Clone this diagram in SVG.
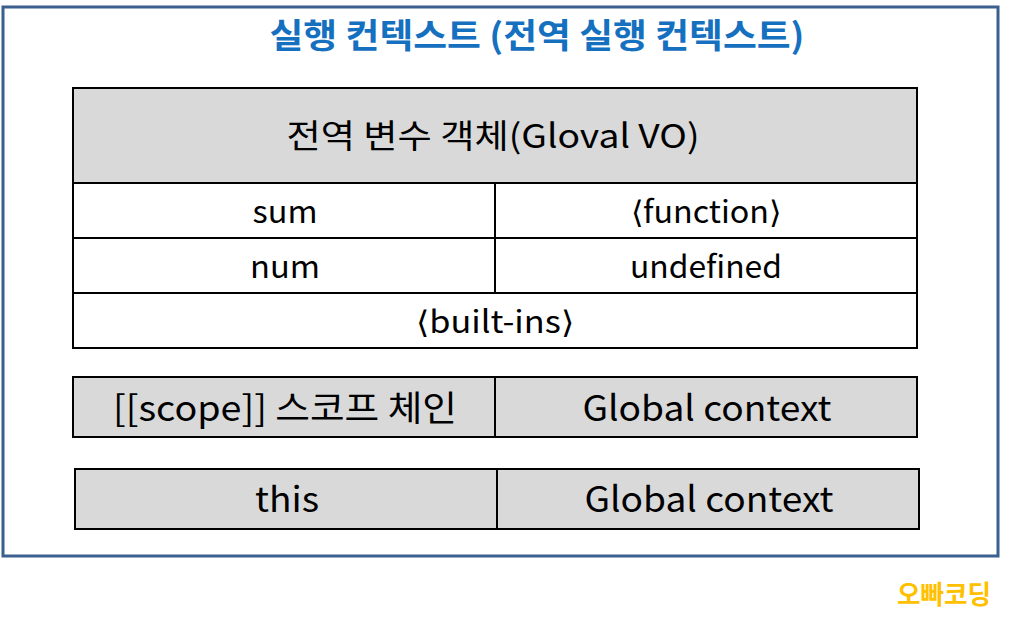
<svg xmlns="http://www.w3.org/2000/svg" width="1024" height="621" viewBox="0 0 1024 621">
<style>
.t{font-family:"Noto Sans CJK KR","Noto Sans",sans-serif;fill:#000;text-anchor:middle}
.r{font-size:31px}
.cell{stroke:#000;stroke-width:2}
.g{fill:#d9d9d9}
.w{fill:#fff}
</style>
<rect width="1024" height="621" fill="#fff"/>
<g id="frame">
<rect x="3" y="7" width="995" height="549" fill="#fff" stroke="#3b5f8e" stroke-width="3"/>
<text x="537" y="48" class="t" style="fill:#1670c0;font-weight:bold;font-size:34px" textLength="535" lengthAdjust="spacingAndGlyphs">실행 컨텍스트 (전역 실행 컨텍스트)</text>
</g>
<g id="vo">
<rect x="73" y="88" width="844" height="95" class="cell g"/>
<rect x="73" y="183" width="844" height="165" class="cell w"/>
<line x1="73" y1="238" x2="917" y2="238" class="cell"/>
<line x1="73" y1="293" x2="917" y2="293" class="cell"/>
<line x1="495" y1="183" x2="495" y2="293" class="cell"/>
<text x="493" y="148" class="t" style="font-size:33px" textLength="413" lengthAdjust="spacingAndGlyphs">전역 변수 객체(Gloval VO)</text>
<text x="285" y="223" class="t r" textLength="65" lengthAdjust="spacingAndGlyphs">sum</text>
<text x="706" y="223" class="t r" textLength="151" lengthAdjust="spacingAndGlyphs">⟨function⟩</text>
<text x="285" y="278" class="t r" textLength="70" lengthAdjust="spacingAndGlyphs">num</text>
<text x="706" y="278" class="t r" textLength="152" lengthAdjust="spacingAndGlyphs">undefined</text>
<text x="495" y="333" class="t r" textLength="158" lengthAdjust="spacingAndGlyphs">⟨built-ins⟩</text>
</g>
<g id="scope">
<rect x="73" y="377" width="844" height="60" class="cell g"/>
<line x1="495" y1="377" x2="495" y2="437" class="cell"/>
<text x="285" y="421" class="t" style="font-size:35px" textLength="344" lengthAdjust="spacingAndGlyphs">[[scope]] 스코프 체인</text>
<text x="707" y="421" class="t" style="font-size:35px" textLength="249" lengthAdjust="spacingAndGlyphs">Global context</text>
</g>
<g id="this">
<rect x="75" y="469" width="844" height="60" class="cell g"/>
<line x1="497" y1="469" x2="497" y2="529" class="cell"/>
<text x="287" y="512" class="t" style="font-size:35px" textLength="64" lengthAdjust="spacingAndGlyphs">this</text>
<text x="709" y="512" class="t" style="font-size:35px" textLength="249" lengthAdjust="spacingAndGlyphs">Global context</text>
</g>
<g id="brand">
<text x="944" y="604" class="t" style="fill:#ffc000;font-weight:bold;font-size:26px" textLength="94" lengthAdjust="spacingAndGlyphs">오빠코딩</text>
</g>
<g id="connectors"></g>
</svg>
